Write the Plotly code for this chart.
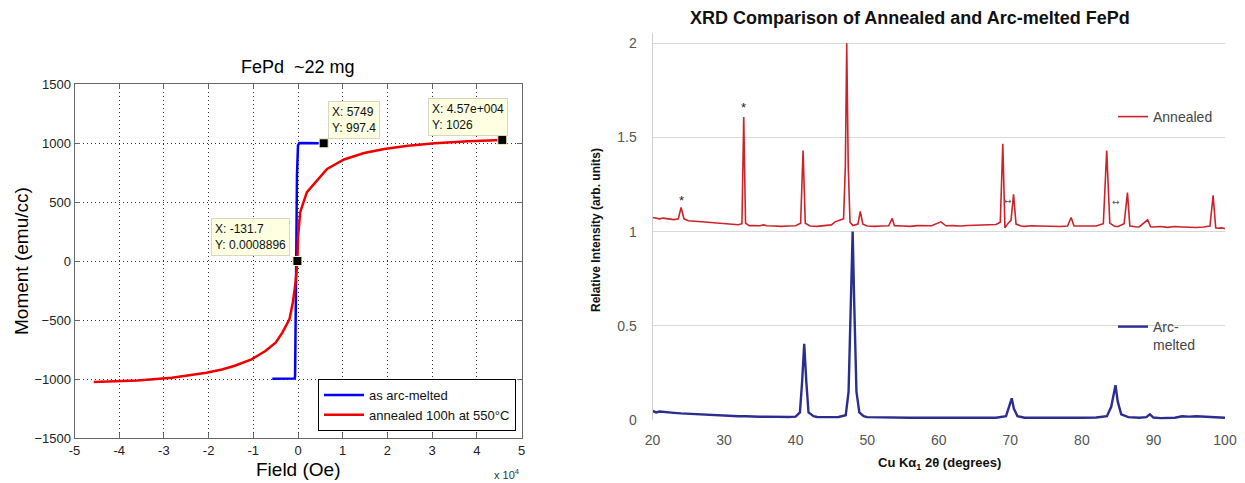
import plotly.graph_objects as go

W, H = 1245, 483
OFF = 8                      # page body margin in the browser
FW, FH = W - OFF, H - OFF    # figure size so the page fits the window

# ---------------- Left chart: FePd magnetisation ----------------
arc_field = [-5749, -750, -650, -620, -400, -230, 0, 300, 5749]
arc_moment = [-997, -995, -975, -690, 0, 730, 980, 1000, 997.4]

ann_field = [-45700, -40000, -35900, -28200, -20500, -17000, -14300, -10400, -7300,
             -5000, -3500, -1900, -1160, -540, -131.7, 0, 500, 800, 2000, 6500,
             10300, 14800, 19300, 24600, 30600, 38100, 45700]
ann_moment = [-1026, -1018, -1012, -990, -947, -920, -890, -834, -763,
              -692, -607, -493, -352, -181, 0.0008896, 200, 414, 450, 584, 780,
              860, 915, 949, 977, 997, 1014, 1026]

tip_field = [-131.7, 5749, 45700]
tip_moment = [0.0008896, 997.4, 1026]
tip_x_text = ["-131.7", "5749", "4.57e+004"]
tip_y_text = ["0.0008896", "997.4", "1026"]

field_tickvals = [-50000, -40000, -30000, -20000, -10000, 0, 10000, 20000, 30000, 40000, 50000]
field_ticktext = ["-5", "-4", "-3", "-2", "-1", "0", "1", "2", "3", "4", "5"]
moment_tickvals = [-1500, -1000, -500, 0, 500, 1000, 1500]

# ---------------- Right chart: XRD ----------------
theta_annealed = [20.0, 20.5, 21.0, 21.5, 22.0, 22.5, 23.0, 23.6, 24.0, 24.4, 25.0, 26.0, 27.0,
                  28.0, 29.0, 30.0, 31.0, 32.0, 32.5, 32.75, 33.0, 33.5, 34.0, 35.0, 35.5, 36.0,
                  37.0, 38.0, 39.0, 40.0, 40.7, 41.04, 41.35, 42.0, 43.0, 44.0, 45.0, 45.5, 46.2,
                  46.7, 46.95, 47.14, 47.35, 47.6, 48.0, 48.7, 49.04, 49.4, 50.0, 51.0, 52.0, 53.0,
                  53.5, 53.8, 55.0, 56.0, 57.0, 58.0, 59.0, 60.3, 61.0, 62.0, 63.0, 64.0, 65.0,
                  66.0, 67.0, 68.0, 68.6, 68.95, 69.25, 69.7, 70.1, 70.45, 70.8, 71.5, 72.0, 73.0,
                  74.0, 75.0, 76.0, 77.0, 78.0, 78.5, 78.9, 80.0, 81.0, 82.0, 83.0, 83.47, 83.9,
                  84.5, 85.0, 85.9, 86.37, 86.7, 87.5, 88.0, 89.2, 89.6, 90.0, 91.0, 92.0, 93.0,
                  94.0, 95.0, 96.0, 97.0, 97.9, 98.34, 98.7, 99.0, 99.5, 100.0]
int_annealed = [1.075, 1.072, 1.068, 1.072, 1.070, 1.066, 1.064, 1.068, 1.128, 1.068, 1.058, 1.055, 1.052,
                1.050, 1.046, 1.043, 1.040, 1.037, 1.042, 1.609, 1.045, 1.032, 1.033, 1.031, 1.036, 1.031,
                1.030, 1.028, 1.030, 1.031, 1.045, 1.431, 1.045, 1.030, 1.028, 1.031, 1.036, 1.052, 1.060,
                1.068, 1.350, 2.000, 1.350, 1.050, 1.032, 1.040, 1.107, 1.040, 1.030, 1.028, 1.030, 1.031,
                1.070, 1.032, 1.030, 1.028, 1.032, 1.030, 1.031, 1.052, 1.031, 1.032, 1.030, 1.033, 1.034,
                1.035, 1.036, 1.038, 1.050, 1.466, 1.020, 1.045, 1.060, 1.198, 1.040, 1.030, 1.028, 1.031,
                1.030, 1.028, 1.029, 1.027, 1.030, 1.075, 1.030, 1.030, 1.026, 1.030, 1.042, 1.431, 1.045,
                1.030, 1.026, 1.042, 1.207, 1.030, 1.026, 1.025, 1.063, 1.026, 1.025, 1.027, 1.023, 1.027,
                1.025, 1.023, 1.022, 1.025, 1.030, 1.193, 1.020, 1.018, 1.020, 1.017]

theta_arc = [20.0, 20.5, 21.0, 22.0, 23.0, 24.0, 25.0, 26.0, 27.0, 28.0, 29.0, 30.0, 31.0, 32.0, 33.0,
             34.0, 35.0, 36.0, 37.0, 38.0, 39.0, 40.0, 40.6, 40.9, 41.2, 41.5, 41.8, 42.5, 43.0, 44.0,
             45.0, 46.0, 47.0, 47.4, 47.7, 47.97, 48.2, 48.5, 48.9, 49.5, 50.0, 52.0, 54.0, 56.0, 58.0,
             60.0, 62.0, 64.0, 66.0, 68.0, 69.4, 69.9, 70.2, 70.5, 71.0, 72.0, 74.0, 76.0, 78.0, 80.0,
             82.0, 83.5, 84.1, 84.7, 85.0, 85.5, 86.5, 88.0, 89.0, 89.5, 90.0, 91.0, 92.0, 93.0, 94.0,
             95.0, 96.0, 97.0, 98.0, 99.0, 100.0]
int_arc = [0.048, 0.040, 0.045, 0.040, 0.038, 0.035, 0.033, 0.030, 0.027, 0.028, 0.024, 0.022, 0.022, 0.020, 0.020,
           0.018, 0.017, 0.018, 0.017, 0.016, 0.016, 0.018, 0.040, 0.200, 0.405, 0.200, 0.040, 0.020, 0.016, 0.015,
           0.015, 0.016, 0.025, 0.150, 0.600, 1.000, 0.600, 0.150, 0.040, 0.020, 0.015, 0.013, 0.012, 0.012, 0.012,
           0.011, 0.011, 0.012, 0.012, 0.012, 0.020, 0.080, 0.115, 0.060, 0.020, 0.012, 0.011, 0.012, 0.012, 0.012,
           0.013, 0.020, 0.070, 0.185, 0.100, 0.030, 0.015, 0.012, 0.015, 0.030, 0.013, 0.010, 0.010, 0.012, 0.020,
           0.018, 0.020, 0.018, 0.016, 0.015, 0.012]

star_theta = [24.0, 32.75]
star_level = [1.165, 1.66]
arrow_theta = [69.7, 84.7]
arrow_level = [1.165, 1.155]
xrd_ytickvals = [0, 0.5, 1, 1.5, 2]
xrd_yticktext = ["0", "0.5", "1", "1.5", "2"]


def px_x(p):
    return (p - OFF) / FW


def px_y(p):
    return 1 - (p - OFF) / FH


FONT = "Liberation Sans, Arial, sans-serif"

fig = go.Figure()

fig.add_trace(go.Scatter(x=arc_field, y=arc_moment, mode="lines", name="as arc-melted",
                         line=dict(color="#0000ff", width=2.5), xaxis="x", yaxis="y", legend="legend"))
fig.add_trace(go.Scatter(x=ann_field, y=ann_moment, mode="lines", name="annealed 100h at 550°C",
                         line=dict(color="#ee0000", width=2.5), xaxis="x", yaxis="y", legend="legend"))
fig.add_trace(go.Scatter(x=tip_field, y=tip_moment, mode="markers", showlegend=False,
                         marker=dict(symbol="square", size=9, color="black",
                                     line=dict(color="#f5f5c8", width=1)),
                         xaxis="x", yaxis="y"))

fig.add_trace(go.Scatter(x=theta_annealed, y=int_annealed, mode="lines", name="Annealed",
                         line=dict(color="#cc2229", width=1.6), xaxis="x2", yaxis="y2", legend="legend2"))
fig.add_trace(go.Scatter(x=theta_arc, y=int_arc, mode="lines", name="Arc-<br>melted",
                         line=dict(color="#2b2d8f", width=2.4), xaxis="x2", yaxis="y2", legend="legend3"))

annotations = []
tip_pos = [("right", -7, 5), ("left", 4, 4), ("right", 6, 4)]
for i in range(len(tip_field)):
    xa, xs, ys = tip_pos[i]
    annotations.append(dict(
        x=tip_field[i], y=tip_moment[i], xref="x", yref="y", showarrow=False,
        text=f"X: {tip_x_text[i]}<br>Y: {tip_y_text[i]}", align="left",
        xanchor=xa, yanchor="bottom", xshift=xs, yshift=ys,
        bgcolor="#ffffe1", bordercolor="#d8d8c0", borderwidth=1, borderpad=3,
        font=dict(family=FONT, size=12, color="#111")))

for t, lv in zip(star_theta, star_level):
    annotations.append(dict(x=t, y=lv, xref="x2", yref="y2", showarrow=False, text="*",
                            font=dict(family=FONT, size=13, color="#222")))
for t, lv in zip(arrow_theta, arrow_level):
    annotations.append(dict(x=t, y=lv, xref="x2", yref="y2", showarrow=False, text="↔",
                            font=dict(family="DejaVu Sans", size=9, color="#555")))


def txt(text, x, y, size, angle=0, color="black", xanchor="center"):
    return dict(text=text, x=px_x(x), y=px_y(y), xref="paper", yref="paper", showarrow=False,
                xanchor=xanchor, yanchor="middle", textangle=angle,
                font=dict(family=FONT, size=size, color=color))


annotations += [
    txt("FePd\u00a0 ~22 mg", 298, 67, 18),
    txt("Moment (emu/cc)", 21, 261, 19, angle=-90),
    txt("Field (Oe)", 298, 469, 19),
    txt("x 10<sup>4</sup>", 522, 474, 11, color="#333", xanchor="right"),
    txt("<b>XRD Comparison of Annealed and Arc-melted FePd</b>", 910, 18, 18, color="#111"),
    txt("<b>Relative Intensity (arb. units)</b>", 596, 230, 12, angle=-90, color="#111"),
    txt("<b>Cu Kα<sub>1</sub> 2θ (degrees)</b>", 939, 463, 13, color="#111"),
]

left_axis_common = dict(showgrid=True, gridcolor="#333", griddash="1px,3px", gridwidth=1,
                        showline=True, linecolor="#666", linewidth=1, mirror="ticks",
                        ticks="inside", ticklen=5, tickcolor="#666", zeroline=False,
                        automargin=False,
                        tickfont=dict(family=FONT, size=13, color="#222"))

fig.update_layout(
    width=FW, height=FH, margin=dict(l=0, r=0, t=0, b=0, autoexpand=False),
    paper_bgcolor="white", plot_bgcolor="white",
    font=dict(family=FONT),
    xaxis=dict(domain=[px_x(74.5), px_x(521.5)], range=[-50000, 50000], anchor="y",
               tickvals=field_tickvals, ticktext=field_ticktext, **left_axis_common),
    yaxis=dict(domain=[px_y(438), px_y(84)], range=[-1500, 1500], anchor="x",
               tickvals=moment_tickvals, **left_axis_common),
    xaxis2=dict(domain=[px_x(652.5), px_x(1225)], range=[20, 100], anchor="y2", dtick=10,
                showgrid=False, showline=False, zeroline=False, ticks="", ticklabelstandoff=10,
                automargin=False, tickfont=dict(family=FONT, size=14, color="#555")),
    yaxis2=dict(domain=[px_y(420), px_y(420 - 2.055 * 188.35)], range=[0, 2.055], anchor="x2",
                tickvals=xrd_ytickvals, ticktext=xrd_yticktext, showgrid=True, gridcolor="#d9d9d9",
                gridwidth=1, showline=True, linecolor="#d0d0d0", linewidth=1, zeroline=False,
                automargin=False, ticks="", ticklabelstandoff=12,
                tickfont=dict(family=FONT, size=14, color="#555")),
    legend=dict(x=px_x(516), y=px_y(431), xanchor="right", yanchor="bottom",
                bordercolor="black", borderwidth=1, bgcolor="white", itemwidth=40,
                font=dict(family=FONT, size=13, color="#111"), tracegroupgap=0),
    legend2=dict(x=px_x(1113), y=px_y(117), xanchor="left", yanchor="middle",
                 bgcolor="rgba(0,0,0,0)", borderwidth=0,
                 font=dict(family=FONT, size=14, color="#444")),
    legend3=dict(x=px_x(1113), y=px_y(311), xanchor="left", yanchor="top", valign="top",
                 bgcolor="rgba(0,0,0,0)", borderwidth=0,
                 font=dict(family=FONT, size=14, color="#444")),
    annotations=annotations,
    showlegend=True,
)

fig.write_html("out.html")
